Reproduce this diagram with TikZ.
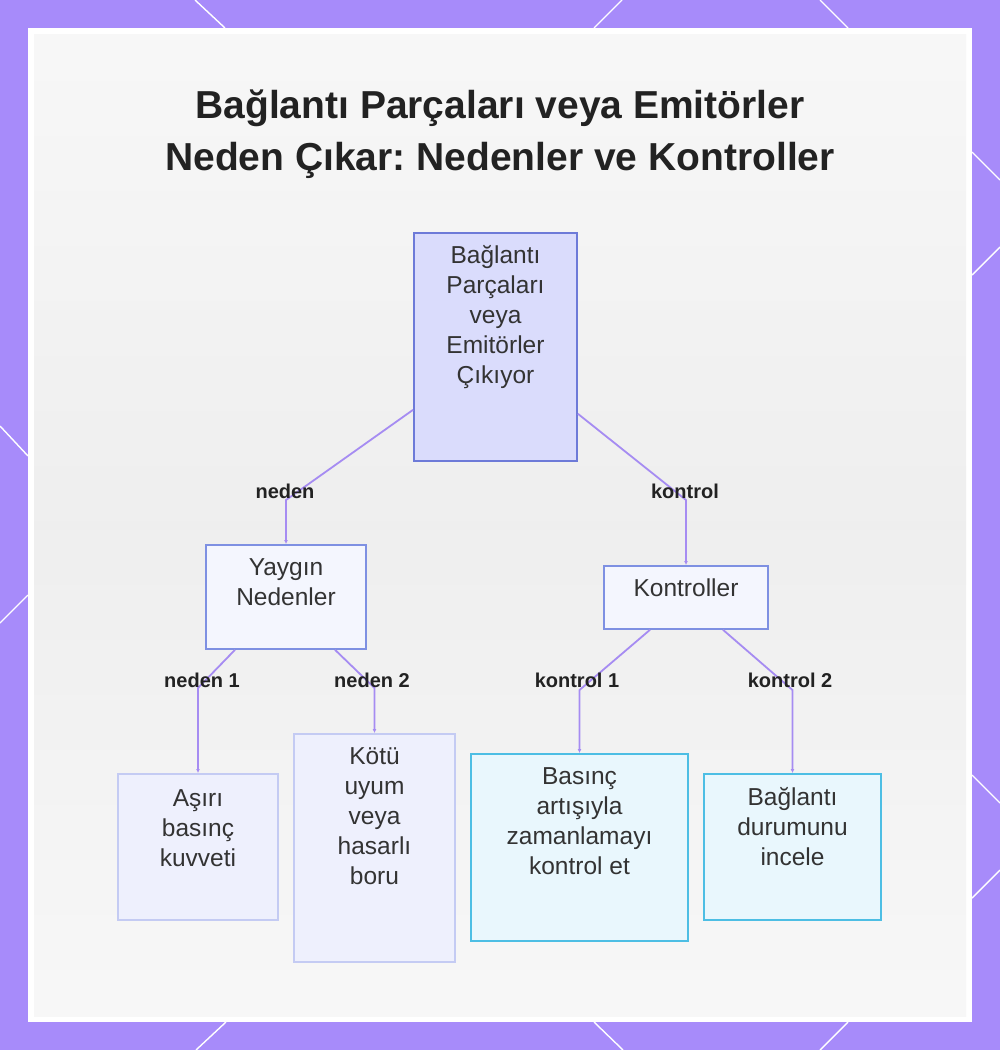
\documentclass[tikz,border=0pt]{standalone}
\usepackage{fontspec}
\setmainfont{Liberation Sans}
\usepackage{tikz}
\usetikzlibrary{calc,positioning,arrows.meta}
\definecolor{framepurple}{HTML}{A78BFA}
\definecolor{linkpurple}{HTML}{A68CF2}
\definecolor{rootfill}{HTML}{DADCFC}
\definecolor{rootdraw}{HTML}{6D7AD8}
\definecolor{groupfill}{HTML}{F4F6FE}
\definecolor{groupdraw}{HTML}{7E90E2}
\definecolor{causefill}{HTML}{EEF0FD}
\definecolor{causedraw}{HTML}{C4CBF3}
\definecolor{ctrlfill}{HTML}{E9F7FD}
\definecolor{ctrldraw}{HTML}{4DBEE4}
\definecolor{inktext}{HTML}{333333}
\definecolor{inktitle}{HTML}{222222}
\frenchspacing

\begin{document}
\begin{tikzpicture}[x=1pt, y=-1pt,
  box/.style={line width=1.8pt, anchor=north, align=center, text=inktext, font=\fontsize{24.5}{30}\selectfont, inner xsep=4pt, inner ysep=6pt},
  rootbox/.style={box, fill=rootfill, draw=rootdraw},
  groupbox/.style={box, fill=groupfill, draw=groupdraw},
  causebox/.style={box, fill=causefill, draw=causedraw},
  ctrlbox/.style={box, fill=ctrlfill, draw=ctrldraw},
  lbl/.style={font=\fontsize{20}{22}\bfseries, text=inktitle, inner sep=1pt},
  link/.style={-{Latex[length=4pt,width=4pt]}, linkpurple, line width=1.8pt}
]
  \useasboundingbox (0,0) rectangle (1000,1050);
  % frame
  \fill[framepurple] (0,0) rectangle (1000,1050);
  \foreach \a/\b/\c/\d in {195/0/225/28, 622/0/594/28, 820/0/848/28,
      226/1022/196/1050, 594/1022/623/1050, 848/1022/820/1050,
      0/426/28/456, 28/595/0/623,
      972/152/1000/180, 1000/247/972/275, 972/775/1000/803, 1000/870/972/898}
    \draw[white, line width=1.4pt] (\a,\b) -- (\c,\d);
  \fill[white] (28,28) rectangle (972,1022);
  \shade[top color=gray!6, bottom color=gray!6, middle color=gray!13] (34,34) rectangle (966,1016);

  \node[font=\fontsize{39}{52}\bfseries, text=inktitle, align=center] (title) at (500,134) {Bağlantı Parçaları veya Emitörler\\Neden Çıkar: Nedenler ve Kontroller};

  \node[rootbox, minimum width=163pt, text height=145pt, text depth=71pt] (root) at (495.5,232) {Bağlantı\\Parçaları\\veya\\Emitörler\\Çıkıyor};
  \node[groupbox, minimum width=160pt, text height=55pt, text depth=37pt] (causes) at (286,544) {Yaygın\\Nedenler};
  \node[groupbox, minimum width=164pt, text height=25pt, text depth=26pt] (controls) at (686,565) {Kontroller};
  \node[causebox, minimum width=160pt, text height=87pt, text depth=47pt] (force) at (198,773) {Aşırı\\basınç\\kuvveti};
  \node[causebox, minimum width=161pt, text height=145pt, text depth=71pt] (pipe) at (374.5,733) {Kötü\\uyum\\veya\\hasarlı\\boru};
  \node[ctrlbox, minimum width=217pt, text height=115pt, text depth=60pt] (timing) at (579.5,753) {Basınç\\artışıyla\\zamanlamayı\\kontrol et};
  \node[ctrlbox, minimum width=177pt, text height=86pt, text depth=48pt] (inspect) at (792.5,773) {Bağlantı\\durumunu\\incele};

  \coordinate (bendCauses) at (286,500);
  \coordinate (bendControls) at (686,500);
  \coordinate (bendForce) at (198,688);
  \coordinate (bendPipe) at (374.5,688);
  \coordinate (bendTiming) at (579.5,690);
  \coordinate (bendInspect) at (792.5,690);

  \draw[link] ($(root.south west)+(0,-52)$) -- (bendCauses) -- (causes.north);
  \draw[link] ($(root.south east)+(0,-48)$) -- (bendControls) -- (controls.north);
  \draw[link] ($(causes.south)+(-51,0)$) -- (bendForce) -- (force.north);
  \draw[link] ($(causes.south)+(49,0)$) -- (bendPipe) -- (pipe.north);
  \draw[link] ($(controls.south)+(-36,0)$) -- (bendTiming) -- (timing.north);
  \draw[link] ($(controls.south)+(37,0)$) -- (bendInspect) -- (inspect.north);

  \node[lbl] (lblCauses) at (285,491) {neden};
  \node[lbl] (lblControls) at (685,491) {kontrol};
  \node[lbl] (lblForce) at (202,680) {neden 1};
  \node[lbl] (lblPipe) at (372,680) {neden 2};
  \node[lbl] (lblTiming) at (577,680) {kontrol 1};
  \node[lbl] (lblInspect) at (790,680) {kontrol 2};
\end{tikzpicture}
\end{document}
